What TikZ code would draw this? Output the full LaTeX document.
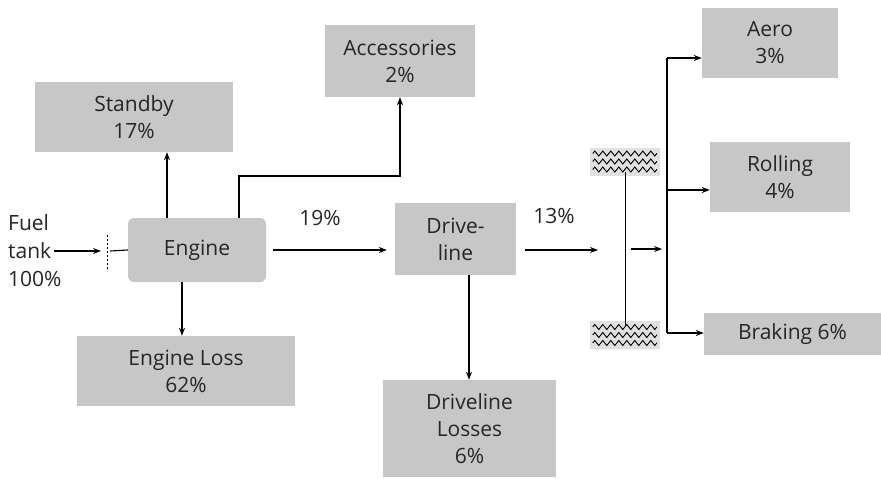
\documentclass[tikz,border=0pt]{standalone}
\usepackage{fontspec}
\setmainfont{Open Sans}
\usetikzlibrary{arrows.meta,decorations.pathmorphing}
\begin{document}
\begin{tikzpicture}[x=1pt,y=-1pt,
  box/.style={fill=black!22, draw=none, align=center, inner sep=0pt,
    font=\fontsize{21}{27}\selectfont, text=black!85},
  lbl/.style={font=\fontsize{21}{28}\selectfont, text=black!85, inner sep=0pt},
  conn/.style={line width=1.1pt, -{Stealth[length=8pt,width=6pt]}},
  plain/.style={line width=1.1pt},
  tire/.style={fill=black!12, draw=none, minimum width=70pt, minimum height=28pt, inner sep=0pt},
  tread/.style={line width=0.9pt, decorate, decoration={zigzag, segment length=8pt, amplitude=2.5pt}}
]
\useasboundingbox (0,0) rectangle (881,479);

% boxes
\node[box, minimum width=198pt, minimum height=70pt] (standby) at (134,117) {Standby\\17\%};
\node[box, minimum width=138pt, minimum height=64pt, rounded corners=6pt] (engine) at (197,250) {Engine};
\node[box, minimum width=150pt, minimum height=72pt] (acc) at (400,61) {Accessories\\2\%};
\node[box, minimum width=121pt, minimum height=72pt] (drive) at (455.5,239) {Drive-\\line};
\node[box, minimum width=173pt, minimum height=97pt] (dloss) at (469.5,428.5) {Driveline\\Losses\\6\%};
\node[box, minimum width=218pt, minimum height=70pt] (eloss) at (186,371) {Engine Loss\\62\%};
\node[box, minimum width=136pt, minimum height=70pt] (aero) at (770,43) {Aero\\3\%};
\node[box, minimum width=140pt, minimum height=70pt] (roll) at (780,177) {Rolling\\4\%};
\node[box, minimum width=177pt, minimum height=42pt] (brake) at (792.5,334) {Braking 6\%};

% fuel tank
\node[lbl, anchor=west, align=left] (fuel) at (8,251) {Fuel\\tank\\100\%};
\coordinate (fuelout) at (54,251);
\coordinate (gap) at (107,251);
\draw[conn] (fuelout) -- ([xshift=-6pt]gap);
\draw[line width=0.8pt, dash pattern=on 2pt off 2pt] ([yshift=-18pt]gap) -- ([yshift=18pt]gap);
\draw[plain] ([xshift=3pt]gap) -- (engine.west);

% engine outputs
\coordinate (sb) at (167,0);
\draw[conn] (engine.north -| sb) -- (standby.south -| sb);
\coordinate (accx) at (400,176);
\draw[conn] (engine.north -| 239,0) |- (accx) -- (acc.south -| accx);
\draw[conn, shorten <=7pt, shorten >=8pt] (engine.east) -- (drive.west |- engine.east);
\node[lbl] (p19) at (320,218) {19\%};
\draw[conn] (engine.south -| 182,0) -- (eloss.north -| 182,0);

% driveline outputs
\coordinate (axin) at (598,250);
\draw[conn, shorten <=9pt] (drive.east |- axin) -- (axin);
\node[lbl] (p13) at (554,216) {13\%};
\draw[conn] (drive.south -| 469,0) -- (dloss.north -| 469,0);

% wheels
\node[tire] (tireT) at (625,161.5) {};
\node[tire] (tireB) at (625,335) {};
\foreach \t in {tireT,tireB}{
  \draw[tread] ([xshift=3pt,yshift=-8pt]\t.west) -- ([xshift=-3pt,yshift=-8pt]\t.east);
  \draw[tread] ([xshift=3pt]\t.west) -- ([xshift=-3pt]\t.east);
  \draw[tread] ([xshift=3pt,yshift=8pt]\t.west) -- ([xshift=-3pt,yshift=8pt]\t.east);
}
\draw[line width=0.9pt] ([yshift=4pt]tireT.south) -- ([yshift=-4pt]tireB.north);
\coordinate (ax2) at (631,249);
\coordinate (bar) at (667,249);
\draw[conn] (ax2) -- ([xshift=-5pt]bar);

% distribution
\coordinate (bt) at (667,58);
\coordinate (bm) at (667,190);
\coordinate (bb) at (667,333);
\draw[plain] (bt) -- (bb);
\draw[conn] (bt) -- (bt -| aero.west);
\draw[conn] (bm) -- (bm -| roll.west);
\draw[conn] (bb) -- (bb -| brake.west);
\end{tikzpicture}
\end{document}
